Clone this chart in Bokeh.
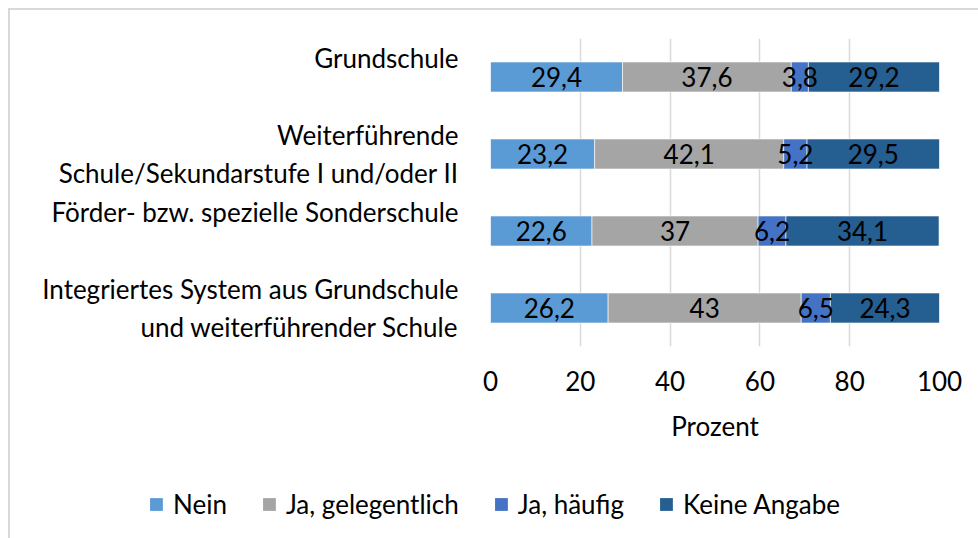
from bokeh.plotting import figure
from bokeh.layouts import column
from bokeh.models import ColumnDataSource, LabelSet, FactorRange, Range1d, Legend
from bokeh.core.properties import value
from bokeh.embed import file_html
from bokeh.resources import INLINE

categories = [
    "Grundschule",
    "Weiterführende\nSchule/Sekundarstufe I und/oder II",
    "Förder- bzw. spezielle Sonderschule",
    "Integriertes System aus Grundschule\nund weiterführender Schule",
]
series_names = ["Nein", "Ja, gelegentlich", "Ja, häufig", "Keine Angabe"]
nein = [29.4, 23.2, 22.6, 26.2]
gelegentlich = [37.6, 42.1, 37.0, 43.0]
haeufig = [3.8, 5.2, 6.2, 6.5]
keine = [29.2, 29.5, 34.1, 24.3]
x_ticks = [0, 20, 40, 60, 80, 100]
colors = ["#5B9BD5", "#A5A5A5", "#4472C4", "#255E91"]

FONT = "Lato"
FS = "26px"

def fmt(v):
    return ("%g" % v).replace(".", ",")

# single-line labels sit one line above the bar centre (as in the original)
factors = [c if "\n" in c else c + "\n " for c in categories]

data = {"cat": factors}
cols = ["s0", "s1", "s2", "s3"]
values = [nein, gelegentlich, haeufig, keine]
for c, v in zip(cols, values):
    data[c] = v
cum = [0.0] * len(factors)
for i, v in enumerate(values):
    data["mid" + str(i)] = [cum[j] + v[j] / 2 for j in range(len(v))]
    data["txt" + str(i)] = [fmt(x) for x in v]
    cum = [cum[j] + v[j] for j in range(len(v))]
src = ColumnDataSource(data)

p = figure(
    width=968, height=460,
    y_range=FactorRange(*reversed(factors), range_padding=0),
    x_range=Range1d(0, 100),
    output_backend="svg", toolbar_location=None,
    min_border_left=480, min_border_right=39, min_border_top=28,
    min_border_bottom=124,
)
p.frame_align = False
p.outline_line_color = None
p.background_fill_color = "white"
p.border_fill_color = "white"

renderers = p.hbar_stack(cols, y="cat", height=0.39, color=colors, source=src,
                         line_color="white", line_width=0.6)

for i in range(4):
    lab = LabelSet(x="mid" + str(i), y="cat", text="txt" + str(i), source=src,
                   text_align="center", text_baseline="middle",
                   text_font=value(FONT), text_font_size=value(FS),
                   text_color="black")
    p.add_layout(lab)

p.ygrid.grid_line_color = None
p.xgrid.grid_line_color = "#d9d9d9"
p.xgrid.grid_line_width = 1.5
p.xaxis.ticker = x_ticks
p.xaxis.axis_line_color = None
p.xaxis.major_tick_line_color = None
p.xaxis.minor_tick_line_color = None
p.xaxis.major_label_standoff = 18
p.xaxis.major_label_text_font = FONT
p.xaxis.major_label_text_font_size = FS
p.xaxis.major_label_text_color = "black"
p.xaxis.axis_label = "Prozent"
p.xaxis.axis_label_text_font = FONT
p.xaxis.axis_label_text_font_size = FS
p.xaxis.axis_label_text_font_style = "normal"
p.xaxis.axis_label_text_color = "black"
p.xaxis.axis_label_standoff = 16

p.yaxis.axis_line_color = None
p.yaxis.major_tick_line_color = None
p.yaxis.minor_tick_line_color = None
p.yaxis.major_label_standoff = 26
p.yaxis.major_label_text_font = FONT
p.yaxis.major_label_text_font_size = FS
p.yaxis.major_label_text_color = "black"

# legend strip below the chart (zero-width key bars only feed the legend)
lf = figure(width=968, height=68, x_range=Range1d(0, 1), y_range=Range1d(0, 1),
            output_backend="svg", toolbar_location=None,
            x_axis_location=None, y_axis_location=None,
            min_border=0, min_border_left=0, min_border_right=0,
            min_border_top=0, min_border_bottom=0)
lf.frame_align = False
lf.outline_line_color = None
lf.grid.visible = False
lf.background_fill_color = "white"
lf.border_fill_color = "white"
key_src = ColumnDataSource({"y": [0], "r": [0]})
keys = [lf.hbar(y="y", right="r", height=0.5, fill_color=c, line_color=None,
                source=key_src) for c in colors]

legend = Legend(items=[(n, [r]) for n, r in zip(series_names, keys)],
                orientation="horizontal", location="center",
                label_text_font=FONT, label_text_font_size=FS,
                label_text_color="black",
                glyph_width=16, glyph_height=16, label_standoff=9, spacing=34,
                border_line_color=None, background_fill_alpha=0,
                margin=0, padding=0)
lf.add_layout(legend, "center")

layout = column(p, lf, spacing=0,
                styles={"margin-left": "8px", "margin-top": "8px",
                        "border-left": "2px solid #d9d9d9",
                        "border-top": "2px solid #d9d9d9"})

open("out.html", "w").write(file_html(layout, INLINE))
